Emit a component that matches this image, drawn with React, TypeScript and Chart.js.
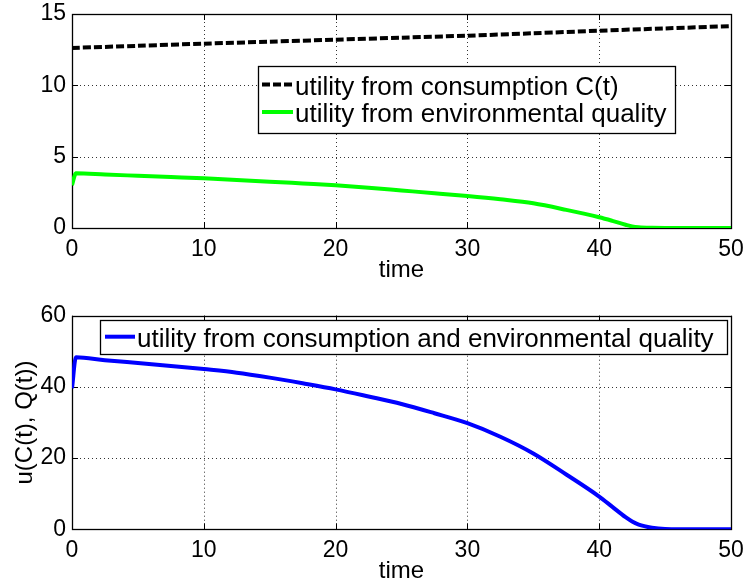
import React, { useEffect, useRef } from "react";
import { Chart, registerables } from "chart.js";

Chart.register(...registerables);

// ---- data ----
const time = [0, 0.3, 2.5, 5, 7.5, 10, 12.5, 15, 17.5, 20, 22.5, 25, 27.5, 30, 32.5, 35, 37.5, 40, 41, 42, 42.5, 43, 44, 45, 47.5, 50];
const environmentUtility = [3.0, 3.83, 3.75, 3.66, 3.57, 3.48, 3.37, 3.25, 3.12, 2.99, 2.82, 2.63, 2.44, 2.24, 2.01, 1.73, 1.27, 0.75, 0.5, 0.23, 0.11, 0.05, 0.01, 0, 0, 0];
const totalUtility = [39.6, 48.3, 47.5, 46.7, 45.9, 45.0, 44.0, 42.6, 41.0, 39.3, 37.3, 35.2, 32.6, 29.8, 26.0, 21.3, 15.4, 9.2, 6.3, 3.4, 2.2, 1.3, 0.45, 0.1, 0, 0];
const consumptionTime = [0, 5, 10, 15, 20, 25, 30, 35, 40, 45, 50];
const consumptionUtility = [12.62, 12.77, 12.92, 13.06, 13.2, 13.34, 13.48, 13.65, 13.83, 13.99, 14.15];

const xTickRange = { min: 0, max: 50, step: 10 };
const topYRange = { min: 0, max: 15, step: 5 };
const bottomYRange = { min: 0, max: 60, step: 20 };

const topLegendLabels = ["utility from consumption C(t)", "utility from environmental quality"];
const bottomLegendLabels = ["utility from consumption and environmental quality"];
const xTitle = "time";
const bottomYTitle = "u(C(t), Q(t))";

const FONT = "'Liberation Sans', Arial, Helvetica, sans-serif";

const toPoints = (xs: number[], ys: number[]) => xs.map((x, i) => ({ x, y: ys[i] }));

// frame, dotted grid and inward ticks (MATLAB style)
const framePlugin = {
  id: "matlabFrame",
  beforeDatasetsDraw(chart: any) {
    const { ctx, chartArea: a, scales } = chart;
    const xs = scales.x;
    const ys = scales.y;
    ctx.save();
    ctx.strokeStyle = "rgba(0,0,0,0.8)";
    ctx.lineWidth = 1;
    ctx.setLineDash([1, 3]);
    ctx.beginPath();
    xs.ticks.forEach((t: any) => {
      if (t.value <= xs.min || t.value >= xs.max) return;
      const px = Math.round(xs.getPixelForValue(t.value)) + 0.5;
      ctx.moveTo(px, a.top);
      ctx.lineTo(px, a.bottom);
    });
    ys.ticks.forEach((t: any) => {
      if (t.value <= ys.min || t.value >= ys.max) return;
      const py = Math.round(ys.getPixelForValue(t.value)) + 0.5;
      ctx.moveTo(a.left, py);
      ctx.lineTo(a.right, py);
    });
    ctx.stroke();
    ctx.setLineDash([]);
    ctx.strokeStyle = "#000";
    ctx.lineWidth = 1.3;
    ctx.strokeRect(Math.round(a.left) + 0.5, Math.round(a.top) + 0.5, Math.round(a.right) - Math.round(a.left), Math.round(a.bottom) - Math.round(a.top));
    const tl = 6;
    ctx.lineWidth = 1;
    ctx.beginPath();
    xs.ticks.forEach((t: any) => {
      const px = Math.round(xs.getPixelForValue(t.value)) + 0.5;
      ctx.moveTo(px, a.bottom);
      ctx.lineTo(px, a.bottom - tl);
      ctx.moveTo(px, a.top);
      ctx.lineTo(px, a.top + tl);
    });
    ys.ticks.forEach((t: any) => {
      const py = Math.round(ys.getPixelForValue(t.value)) + 0.5;
      ctx.moveTo(a.left, py);
      ctx.lineTo(a.left + tl, py);
      ctx.moveTo(a.right, py);
      ctx.lineTo(a.right - tl, py);
    });
    ctx.stroke();
    ctx.restore();
  },
};

// boxed legend inside the plot
const boxLegendPlugin = {
  id: "boxLegend",
  afterDatasetsDraw(chart: any, _args: any, opts: any) {
    const { ctx } = chart;
    const { left, top, right, bottom, firstBaseline, rowGap, sampleStart, sampleEnd, textStart, sampleRise } = opts;
    ctx.save();
    ctx.fillStyle = "#fff";
    ctx.fillRect(left, top, right - left, bottom - top);
    ctx.strokeStyle = "#000";
    ctx.lineWidth = 1.3;
    ctx.setLineDash([]);
    ctx.strokeRect(left, top, right - left, bottom - top);
    chart.data.datasets.forEach((ds: any, i: number) => {
      const base = firstBaseline + i * rowGap;
      const sy = base - sampleRise;
      ctx.save();
      ctx.strokeStyle = ds.borderColor;
      ctx.lineWidth = ds.borderWidth;
      ctx.setLineDash(ds.borderDash || []);
      ctx.beginPath();
      ctx.moveTo(sampleStart, sy);
      ctx.lineTo(sampleEnd, sy);
      ctx.stroke();
      ctx.restore();
      ctx.fillStyle = "#000";
      ctx.font = `26px ${FONT}`;
      ctx.textBaseline = "alphabetic";
      ctx.textAlign = "left";
      ctx.fillText(ds.label, textStart, base);
    });
    ctx.restore();
  },
};

function makeOptions(yRange: any, cfg: any) {
  return {
    responsive: false,
    animation: false as const,
    layout: { padding: { left: 0, right: 17, top: cfg.padTop, bottom: 0 } },
    plugins: {
      legend: { display: false },
      tooltip: { enabled: false },
      boxLegend: cfg.legend,
    },
    scales: {
      x: {
        type: "linear" as const,
        min: xTickRange.min,
        max: xTickRange.max,
        grid: { display: false, drawTicks: false },
        border: { display: false },
        ticks: {
          stepSize: xTickRange.step,
          color: "#000",
          font: { family: FONT, size: 23 },
          padding: 8,
          maxRotation: 0,
        },
        title: {
          display: true,
          text: xTitle,
          color: "#000",
          font: { family: FONT, size: 24 },
          padding: { top: 0, bottom: cfg.xTitlePad },
        },
        afterFit: (scale: any) => {
          scale.height = cfg.xAxisHeight;
          scale.paddingLeft = 0;
          scale.paddingRight = 0;
        },
      },
      y: {
        type: "linear" as const,
        min: yRange.min,
        max: yRange.max,
        grid: { display: false, drawTicks: false },
        border: { display: false },
        ticks: {
          stepSize: yRange.step,
          color: "#000",
          font: { family: FONT, size: 23 },
          padding: 6,
        },
        title: {
          display: !!cfg.yTitle,
          text: cfg.yTitle || "",
          color: "#000",
          font: { family: FONT, size: 24 },
          padding: { top: 11, bottom: 0 },
        },
        afterFit: (scale: any) => {
          scale.width = 72;
          scale.paddingTop = 0;
          scale.paddingBottom = 0;
        },
      },
    },
  };
}

export default function App() {
  const topRef = useRef<HTMLCanvasElement | null>(null);
  const bottomRef = useRef<HTMLCanvasElement | null>(null);

  useEffect(() => {
    if (!topRef.current || !bottomRef.current) return;
    const top = new Chart(topRef.current, {
      type: "line",
      data: {
        datasets: [
          {
            label: topLegendLabels[0],
            data: toPoints(consumptionTime, consumptionUtility),
            borderColor: "#000000",
            borderWidth: 4,
            borderDash: [8, 3],
            pointRadius: 0,
            tension: 0.3,
            fill: false,
          },
          {
            label: topLegendLabels[1],
            data: toPoints(time, environmentUtility),
            borderColor: "#00ff00",
            borderWidth: 4,
            pointRadius: 0,
            cubicInterpolationMode: "monotone",
            fill: false,
          },
        ],
      },
      options: makeOptions(topYRange, {
        padTop: 14,
        xAxisHeight: 62,
        xTitlePad: 5,
        legend: {
          left: 258.5, top: 66.5, right: 675.5, bottom: 133.5,
          firstBaseline: 94.5, rowGap: 27.5,
          sampleStart: 262, sampleEnd: 293, textStart: 295, sampleRise: 10,
        },
      }) as any,
      plugins: [framePlugin, boxLegendPlugin],
    });
    const bottom = new Chart(bottomRef.current, {
      type: "line",
      data: {
        datasets: [
          {
            label: bottomLegendLabels[0],
            data: toPoints(time, totalUtility),
            borderColor: "#0000ff",
            borderWidth: 4,
            pointRadius: 0,
            cubicInterpolationMode: "monotone",
            fill: false,
          },
        ],
      },
      options: makeOptions(bottomYRange, {
        padTop: 25.7,
        xAxisHeight: 57.7,
        xTitlePad: 1,
        yTitle: bottomYTitle,
        legend: {
          left: 100.5, top: 30.5, right: 727.5, bottom: 64.5,
          firstBaseline: 56.7, rowGap: 27.5,
          sampleStart: 105, sampleEnd: 135, textStart: 137, sampleRise: 10,
        },
      }) as any,
      plugins: [framePlugin, boxLegendPlugin],
    });
    return () => {
      top.destroy();
      bottom.destroy();
    };
  }, []);

  return (
    <div style={{ position: "absolute", left: 0, top: 0, width: 748, height: 587, background: "#fff" }}>
      <canvas ref={topRef} width={748} height={290} style={{ position: "absolute", left: 0, top: 0, width: 748, height: 290 }} />
      <canvas ref={bottomRef} width={748} height={297} style={{ position: "absolute", left: 0, top: 290, width: 748, height: 297 }} />
    </div>
  );
}
